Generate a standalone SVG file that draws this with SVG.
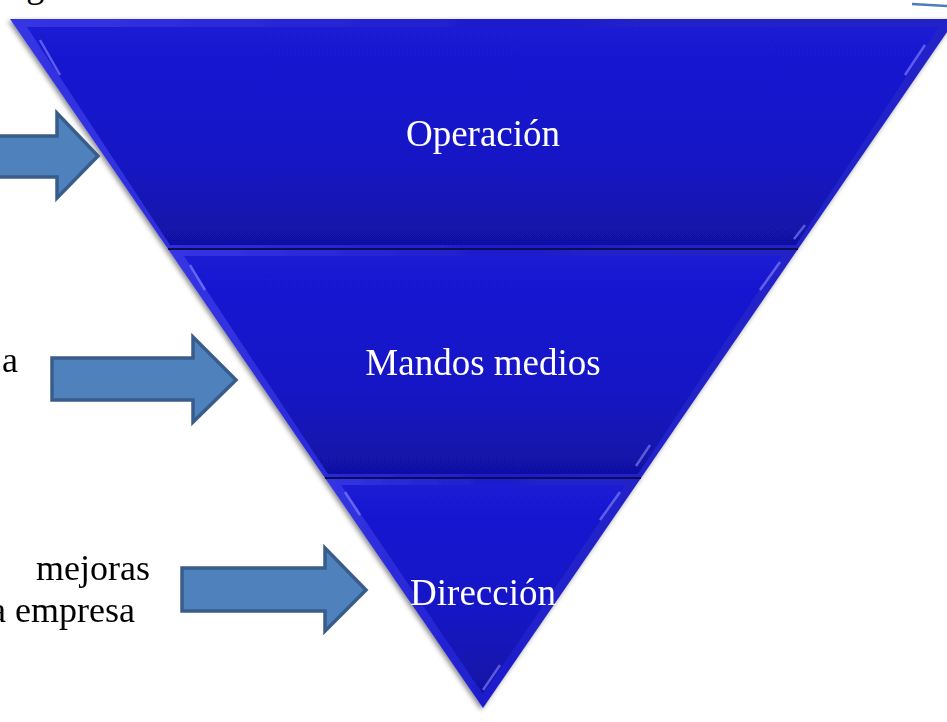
<svg xmlns="http://www.w3.org/2000/svg" width="947" height="722" viewBox="0 0 947 722">
<defs>
<style>
.lbl{font-family:"Liberation Serif","Times New Roman",serif;font-size:37px;fill:#ffffff}
.txt{font-family:"Liberation Serif","Times New Roman",serif;font-size:36px;fill:#000000}
.arrow{fill:#4f81bd;stroke:#385d8a;stroke-width:3.5;stroke-linejoin:miter}
.bevel{fill:url(#bev)}
.inner{fill:url(#face)}
.streak{stroke:#8a8aff;stroke-width:2.5;opacity:0.6;fill:none}
.div{stroke:#0c0c55;stroke-width:2}
</style>
<linearGradient id="face" x1="0" y1="0" x2="0" y2="1">
<stop offset="0" stop-color="#1a1ad4"/>
<stop offset="0.6" stop-color="#1616c6"/>
<stop offset="1" stop-color="#1111a4"/>
</linearGradient>
<linearGradient id="bev" x1="0" y1="0" x2="1" y2="0">
<stop offset="0" stop-color="#3535e4"/>
<stop offset="0.5" stop-color="#1e1ecc"/>
<stop offset="1" stop-color="#2424c8"/>
</linearGradient>
<filter id="sh" x="-5%" y="-5%" width="110%" height="110%">
<feDropShadow dx="-2" dy="2" stdDeviation="2.5" flood-color="#000" flood-opacity="0.45"/>
</filter>
</defs>

<g id="top-title">
<text class="txt" x="-11" y="-3">Organización tradicional</text>
<path d="M912 4 L947 6" stroke="#4a7ebb" stroke-width="2.5" fill="none"/>
</g>

<g id="pyramid" filter="url(#sh)">
<g id="operacion">
<polygon class="bevel" points="10,19 956,19 798,249 168,249"/>
<polygon class="inner" points="27,27 939,27 796,245 170,245"/>
<line class="streak" x1="905" y1="75" x2="925" y2="45"/>
<line class="streak" x1="794" y1="239" x2="805" y2="225"/>
<line class="streak" x1="40" y1="40" x2="60" y2="75"/>
<text class="lbl" x="483" y="146" text-anchor="middle">Operación</text>
</g>
<g id="mandos-medios">
<polygon class="bevel" points="168,249 798,249 641,478 325,478"/>
<polygon class="inner" points="184,256 782,256 638,474 328,474"/>
<line class="streak" x1="760" y1="290" x2="780" y2="262"/>
<line class="streak" x1="636" y1="466" x2="650" y2="445"/>
<line class="streak" x1="190" y1="265" x2="205" y2="290"/>
<text class="lbl" x="483" y="375" text-anchor="middle">Mandos medios</text>
</g>
<g id="direccion">
<polygon class="bevel" points="325,478 641,478 483,708"/>
<polygon class="inner" points="341,485 625,485 483,694"/>
<line class="streak" x1="600" y1="520" x2="620" y2="492"/>
<line class="streak" x1="483" y1="690" x2="500" y2="665"/>
<line class="streak" x1="345" y1="492" x2="360" y2="515"/>
<text class="lbl" x="483" y="605" text-anchor="middle">Dirección</text>
</g>
<line class="div" x1="168" y1="249" x2="798" y2="249"/>
<line class="div" x1="325" y1="478" x2="641" y2="478"/>
</g>

<g id="connectors">
<polygon class="arrow" points="-5,136 57,136 57,113 98,156 57,198 57,177 -5,177"/>
<polygon class="arrow" points="52,358 193,358 193,337 236,380 193,422 193,400 52,400"/>
<polygon class="arrow" points="182,568 325,568 325,548 366,590 325,631 325,611 182,611"/>
</g>

<g id="side-texts">
<text class="txt" x="2" y="372">a</text>
<text class="txt" x="150" y="580" text-anchor="end">mejoras</text>
<text class="txt" x="135" y="622" text-anchor="end">la empresa</text>
</g>
</svg>
